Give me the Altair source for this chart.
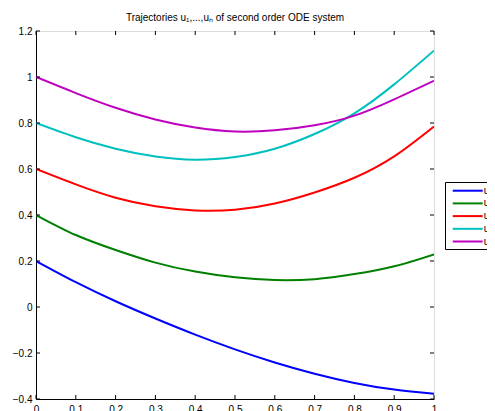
import altair as alt
import pandas as pd

# ---- data ----
t = [0.0, 0.1, 0.2, 0.3, 0.4, 0.5, 0.6, 0.7, 0.8, 0.9, 1.0]
u1 = [0.200, 0.108, 0.025, -0.050, -0.120, -0.184, -0.241, -0.290, -0.330, -0.359, -0.377]
u2 = [0.400, 0.313, 0.248, 0.193, 0.154, 0.129, 0.117, 0.121, 0.143, 0.177, 0.229]
u3 = [0.600, 0.533, 0.475, 0.438, 0.420, 0.423, 0.450, 0.498, 0.562, 0.655, 0.785]
u4 = [0.800, 0.738, 0.688, 0.654, 0.640, 0.652, 0.688, 0.752, 0.842, 0.968, 1.115]
u5 = [1.000, 0.930, 0.866, 0.815, 0.780, 0.763, 0.768, 0.790, 0.832, 0.903, 0.984]

names = ["u1", "u2", "u3", "u4", "u5"]
colors = ["#0000FF", "#008000", "#FF0000", "#00BFBF", "#BF00BF"]
x_ticks = [0, 0.1, 0.2, 0.3, 0.4, 0.5, 0.6, 0.7, 0.8, 0.9, 1]
y_ticks = [-0.4, -0.2, 0, 0.2, 0.4, 0.6, 0.8, 1, 1.2]

series = [u1, u2, u3, u4, u5]
rows = []
for name, vals in zip(names, series):
    for ti, v in zip(t, vals):
        rows.append({"t": ti, "u": v, "series": name})
df = pd.DataFrame(rows)
xt = pd.DataFrame({"t": x_ticks})
yt = pd.DataFrame({"u": y_ticks})

FONT = "Liberation Sans"
W, H = 398, 368
TL = 4

xscale = alt.Scale(domain=[0, 1], nice=False, zero=False)
yscale = alt.Scale(domain=[-0.4, 1.2], nice=False, zero=False)
xaxis = alt.Axis(values=x_ticks, format="~g", tickSize=0, grid=False, title=None,
                 labelFont=FONT, labelFontSize=10, labelColor="black",
                 labelPadding=5, domainColor="black", labelFlush=False)
yaxis = alt.Axis(values=y_ticks, format="~g", tickSize=0, grid=False, title=None,
                 labelFont=FONT, labelFontSize=10, labelColor="black",
                 labelPadding=4, domainColor="black", labelFlush=False)

lines = alt.Chart(df).mark_line(strokeWidth=2, interpolate="natural", clip=True).encode(
    x=alt.X("t:Q", scale=xscale, axis=xaxis),
    y=alt.Y("u:Q", scale=yscale, axis=yaxis),
    color=alt.Color("series:N", scale=alt.Scale(domain=names, range=colors),
                    legend=alt.Legend(title=None, orient="none", legendX=409, legendY=151,
                                      symbolType="M-2.5,0H2.5", symbolSize=144,
                                      symbolStrokeWidth=2, symbolFillColor="transparent",
                                      labelFont=FONT,
                                      labelFontSize=10, labelColor="black",
                                      strokeColor="black", fillColor="white",
                                      padding=1.7, rowPadding=0.7, symbolOffset=14,
                                      labelOffset=9)),
)

left = alt.Chart(yt).mark_rule(color="black", strokeWidth=1).encode(
    y=alt.Y("u:Q", scale=yscale, axis=yaxis), x=alt.value(0), x2=alt.value(TL))
right = alt.Chart(yt).mark_rule(color="black", strokeWidth=1).encode(
    y=alt.Y("u:Q", scale=yscale, axis=yaxis), x=alt.value(W - TL), x2=alt.value(W))
bottom = alt.Chart(xt).mark_rule(color="black", strokeWidth=1).encode(
    x=alt.X("t:Q", scale=xscale, axis=xaxis), y=alt.value(H), y2=alt.value(H - TL))
top = alt.Chart(xt).mark_rule(color="black", strokeWidth=1).encode(
    x=alt.X("t:Q", scale=xscale, axis=xaxis), y=alt.value(0), y2=alt.value(TL))

chart = alt.layer(lines, left, right, bottom, top).properties(
    width=W, height=H,
    title=alt.TitleParams(text="Trajectories u\u2081,...,u\u2099 of second order ODE system",
                          font=FONT, fontSize=10, fontWeight="normal", color="black",
                          anchor="middle", offset=3),
    autosize=alt.AutoSizeParams(type="none"),
    padding={"left": 28, "top": 23, "right": 53, "bottom": 12},
).configure_view(stroke="black", strokeWidth=1).configure(background="white")

chart.save("out.html", embed_options={"renderer": "svg", "actions": False})
